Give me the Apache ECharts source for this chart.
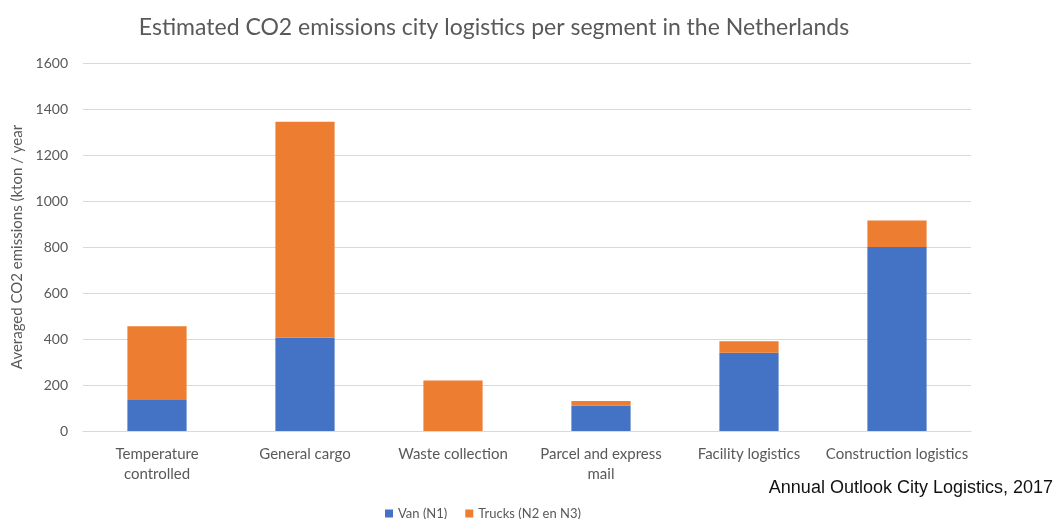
<!DOCTYPE html>
<html><head><meta charset="utf-8">
<script src="https://cdn.jsdelivr.net/npm/echarts@6/dist/echarts.min.js"></script>
<style>html,body{margin:0;padding:0;background:#fff}#c{width:1062px;height:519px}</style>
</head><body><div id="c"></div>
<script>
const categories = ['Temperature\ncontrolled', 'General cargo', 'Waste collection', 'Parcel and express\nmail', 'Facility logistics', 'Construction logistics'];
const vanN1 = [135, 405, 0, 110, 340, 800];
const trucksN2N3 = [320, 940, 220, 20, 50, 115];
const yTicks = [0, 200, 400, 600, 800, 1000, 1200, 1400, 1600];

const font = 'Lato, "Open Sans", sans-serif';
const chart = echarts.init(document.getElementById('c'), null, {renderer: 'canvas'});
chart.setOption({
  animation: false,
  title: [{
    text: 'Estimated CO2 emissions city logistics per segment in the Netherlands',
    left: 489, top: 11, textAlign: 'center',
    textStyle: {fontFamily: font, fontSize: 23, fontWeight: 'normal', color: '#595959'}
  }, {
    text: 'Annual Outlook City Logistics, 2017',
    right: 4, top: 474,
    textStyle: {fontFamily: 'Liberation Sans, Arial, sans-serif', fontSize: 18, fontWeight: 'normal', color: '#111'}
  }],
  legend: {
    data: ['Van (N1)', 'Trucks (N2 en N3)'],
    left: 380, top: 502, itemWidth: 8, itemHeight: 8, itemGap: 18, icon: 'rect',
    textStyle: {fontFamily: font, fontSize: 13, color: '#595959'}
  },
  grid: {left: 83, right: 91, top: 63, bottom: 88},
  xAxis: {
    type: 'category', data: categories,
    axisLine: {lineStyle: {color: '#d9d9d9'}},
    axisTick: {show: false},
    axisLabel: {fontFamily: font, fontSize: 15, color: '#595959', margin: 13, lineHeight: 20, interval: 0}
  },
  yAxis: {
    type: 'value', min: 0, max: 1600, interval: 200,
    name: 'Averaged CO2 emissions (kton / year', nameLocation: 'middle', nameGap: 55,
    nameTextStyle: {fontFamily: font, fontSize: 15, color: '#595959'},
    axisLine: {show: false}, axisTick: {show: false},
    axisLabel: {fontFamily: font, fontSize: 14, color: '#595959', margin: 15,
      formatter: v => yTicks.includes(v) ? String(v) : ''},
    splitLine: {lineStyle: {color: '#d9d9d9'}}
  },
  series: [{
    name: 'Van (N1)', type: 'bar', stack: 'total', data: vanN1,
    barWidth: '40%', itemStyle: {color: '#4472C4'}
  }, {
    name: 'Trucks (N2 en N3)', type: 'bar', stack: 'total', data: trucksN2N3,
    barWidth: '40%', itemStyle: {color: '#ED7D31'}
  }]
});
</script></body></html>
